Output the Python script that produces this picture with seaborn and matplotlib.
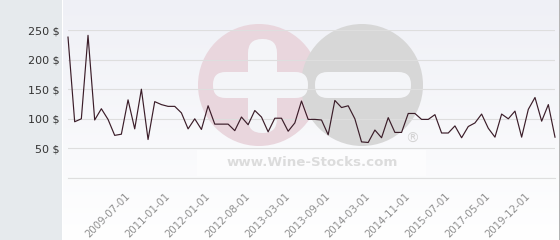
import numpy as np
import pandas as pd
import matplotlib
matplotlib.use("Agg")
import matplotlib.pyplot as plt
from matplotlib.patches import Circle, FancyBboxPatch, Rectangle
import seaborn as sns

# ---- data ----
prices = [238, 95, 100, 241, 98, 117, 99, 72, 74, 132, 83, 150, 65, 129, 124, 121, 121, 110, 83,
          100, 82, 122, 91, 91, 91, 80, 103, 90, 114, 103, 78, 101, 101, 79, 93, 130, 99,
          99, 98, 73, 131, 119, 122, 100, 61, 60, 81, 68, 102, 77, 77, 109, 109, 99, 99,
          107, 76, 76, 88, 68, 87, 93, 108, 84, 69, 108, 100, 113, 69, 116, 136, 96, 124, 69]
tick_labels = ["2009-07-01", "2011-01-01", "2012-01-01", "2012-08-01", "2013-03-01", "2013-09-01",
               "2014-03-01", "2014-11-01", "2015-07-01", "2017-05-01", "2019-12-01"]
first_labelled = 9
label_step = 6
y_ticks = [0, 50, 100, 150, 200, 250]

df = pd.DataFrame({"idx": np.arange(len(prices)), "price": prices})

W, H = 560, 240
fig = plt.figure(figsize=(W / 100, H / 100), dpi=100)
plt.rcParams["font.family"] = ["DejaVu Sans"]

# ---- background / watermark layer (pixel coordinates) ----
bg = fig.add_axes([0, 0, 1, 1])
bg.set_xlim(0, W)
bg.set_ylim(H, 0)
bg.axis("off")
grad = np.linspace(0, 1, 256)[:, None]
top = np.array([0xef, 0xf0, 0xf6]) / 255
bot = np.array([1.0, 1.0, 1.0])
img = top[None, None, :] * (1 - grad[..., None]) + bot[None, None, :] * grad[..., None]
bg.imshow(img, extent=[63, 559, H, 0], aspect="auto", zorder=0)
bg.add_patch(Rectangle((0, 0), 62, H, facecolor="#e6eaed", edgecolor="none", zorder=1))
bg.add_patch(Rectangle((558.5, 0), 1.5, H, facecolor="#b4b4b4", edgecolor="none", zorder=1))
# logo
bg.add_patch(Circle((259, 85), 61, facecolor="#e9d6dd", edgecolor="none", zorder=2))
bg.add_patch(Circle((362, 85), 61, facecolor="#d7d7d7", edgecolor="none", zorder=3))
bar_col = "#f4f5f8"
bg.add_patch(FancyBboxPatch((213, 72), 95, 26, boxstyle="round,pad=0,rounding_size=12.5",
                            facecolor=bar_col, edgecolor="none", zorder=4))
bg.add_patch(FancyBboxPatch((248, 39), 29, 94, boxstyle="round,pad=0,rounding_size=14",
                            facecolor=bar_col, edgecolor="none", zorder=4))
bg.add_patch(FancyBboxPatch((315, 72), 96, 26, boxstyle="round,pad=0,rounding_size=12.5",
                            facecolor=bar_col, edgecolor="none", zorder=4))
bg.add_patch(Rectangle((197, 150), 229, 26, facecolor="#fcfcfd", edgecolor="none", zorder=4))
bg.text(312, 162, "www.Wine-Stocks.com", ha="center", va="center", fontsize=9.6,
        fontweight="bold", color="#dcdcdc", zorder=5)
bg.text(412, 139, "®", ha="center", va="center", fontsize=10, color="#d4d4d4", zorder=5)

# ---- main chart ----
ax = fig.add_axes([68 / W, (H - 178) / H, (555 - 68) / W, (178 - 30) / H])
ax.patch.set_alpha(0)
sns.lineplot(data=df, x="idx", y="price", ax=ax, color="#3b1d29", linewidth=0.85,
             clip_on=False, zorder=5)
ax.set_xlim(0, len(prices) - 1)
ax.set_ylim(0, 250)
for s in ax.spines.values():
    s.set_visible(False)
ax.set_yticks(y_ticks)
ax.set_yticklabels(["" if v == 0 else f"{v} $" for v in y_ticks])
ax.yaxis.grid(True, color="#dedede", linewidth=0.8)
ax.axhline(0, color="#dedede", linewidth=0.8, clip_on=False, zorder=0.5)
ax.set_axisbelow(True)
ax.tick_params(axis="y", length=0, pad=6, labelsize=8, labelcolor="#333333")
tick_pos = [first_labelled + i * label_step for i in range(len(tick_labels))]
ax.set_xticks(tick_pos)
ax.set_xticklabels(tick_labels, rotation=45, ha="right", va="center", rotation_mode="anchor")
ax.tick_params(axis="x", length=0, pad=12, labelsize=7.3, labelcolor="#8e8e8e")
ax.set_xlabel("")
ax.set_ylabel("")

fig.savefig("out.png", dpi=100)
